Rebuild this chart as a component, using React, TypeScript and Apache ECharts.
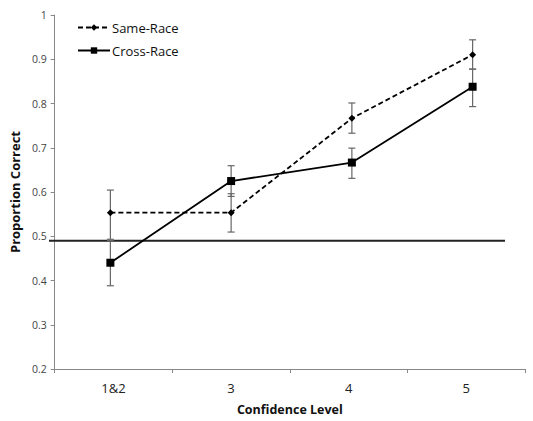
import React, { useEffect, useRef } from "react";
import * as echarts from "echarts";

const categories = ["1&2", "3", "4", "5"];
const sameRace = [0.562, 0.562, 0.771, 0.912];
const sameLow = [0.503, 0.519, 0.738, 0.88];
const sameHigh = [0.612, 0.604, 0.805, 0.945];
const crossRace = [0.451, 0.632, 0.673, 0.841];
const crossLow = [0.4, 0.598, 0.638, 0.797];
const crossHigh = [0.5, 0.666, 0.705, 0.88];
const referenceLine = [0.5, 0.5];
const yTicks = { min: 0.2, max: 1, interval: 0.1 };

const FONT = "'Open Sans', 'Noto Sans', sans-serif";

function errorSeries(name: string, lows: number[], highs: number[]) {
  return {
    type: "custom",
    name: name + "-err",
    xAxisIndex: 1,
    yAxisIndex: 1,
    silent: true,
    z: 1,
    data: lows.map((l, i) => [i, l, highs[i]]),
    renderItem: (params: any, api: any) => {
      const x = api.value(0);
      const lo = api.coord([x, api.value(1)]);
      const hi = api.coord([x, api.value(2)]);
      const cap = 3.5;
      const style = { stroke: "#666", lineWidth: 1.2 };
      return {
        type: "group",
        children: [
          { type: "line", shape: { x1: lo[0], y1: lo[1], x2: hi[0], y2: hi[1] }, style },
          { type: "line", shape: { x1: lo[0] - cap, y1: lo[1], x2: lo[0] + cap, y2: lo[1] }, style },
          { type: "line", shape: { x1: hi[0] - cap, y1: hi[1], x2: hi[0] + cap, y2: hi[1] }, style },
        ],
      };
    },
  };
}

export default function App() {
  const ref = useRef<HTMLDivElement>(null);
  useEffect(() => {
    if (!ref.current) return;
    const chart = echarts.init(ref.current, null, { renderer: "svg" });
    const hiddenY = {
      type: "value",
      min: yTicks.min,
      max: yTicks.max,
      interval: yTicks.interval,
      show: false,
    };
    chart.setOption({
      animation: false,
      backgroundColor: "#fff",
      textStyle: { fontFamily: FONT },
      grid: [
        { left: 49, top: 15, width: 476, height: 361 },
        { left: 50, top: 15, width: 487, height: 361 },
        { left: 49, top: 15, width: 456, height: 361 },
      ],
      legend: {
        orient: "vertical",
        left: 72,
        top: 16,
        itemWidth: 32,
        itemHeight: 8,
        itemGap: 10,
        data: ["Same-Race", "Cross-Race"],
        textStyle: { fontFamily: FONT, fontSize: 13, color: "#111", padding: [0, 0, 0, -3] },
      },
      xAxis: [
        {
          type: "category",
          gridIndex: 0,
          data: categories,
          name: "Confidence Level",
          nameLocation: "middle",
          nameGap: 34,
          nameTextStyle: { fontFamily: FONT, fontSize: 12.5, fontWeight: "bold", color: "#111" },
          axisLine: { lineStyle: { color: "#888", width: 1 } },
          axisTick: { show: true, length: 4, lineStyle: { color: "#888" } },
          axisLabel: { fontFamily: FONT, fontSize: 13, color: "#222", margin: 12 },
        },
        { type: "category", gridIndex: 1, data: categories, show: false },
        { type: "category", gridIndex: 2, data: ["a", "b"], boundaryGap: false, show: false },
      ],
      yAxis: [
        {
          type: "value",
          gridIndex: 0,
          min: yTicks.min,
          max: yTicks.max,
          interval: yTicks.interval,
          name: "Proportion Correct",
          nameLocation: "middle",
          nameGap: 31,
          nameTextStyle: { fontFamily: FONT, fontSize: 13, fontWeight: "bold", color: "#111" },
          axisLine: { show: true, lineStyle: { color: "#888", width: 1 } },
          axisTick: { show: true, length: 4, lineStyle: { color: "#888" } },
          splitLine: { show: false },
          axisLabel: {
            fontFamily: FONT,
            fontSize: 10.5,
            color: "#444",
            margin: 8,
            formatter: (v: number) => String(Math.round(v * 10) / 10),
          },
        },
        { ...hiddenY, gridIndex: 1 },
        { ...hiddenY, gridIndex: 2 },
      ],
      series: [
        {
          type: "line",
          name: "ref",
          xAxisIndex: 2,
          yAxisIndex: 2,
          data: referenceLine,
          symbol: "none",
          silent: true,
          z: 0,
          lineStyle: { color: "#222", width: 2 },
        },
        errorSeries("Same-Race", sameLow, sameHigh),
        errorSeries("Cross-Race", crossLow, crossHigh),
        {
          type: "line",
          name: "Same-Race",
          xAxisIndex: 1,
          yAxisIndex: 1,
          data: sameRace,
          symbol: "diamond",
          symbolSize: 7,
          z: 3,
          itemStyle: { color: "#000" },
          lineStyle: { color: "#000", width: 1.8, type: [5, 3] },
        },
        {
          type: "line",
          name: "Cross-Race",
          xAxisIndex: 1,
          yAxisIndex: 1,
          data: crossRace,
          symbol: "rect",
          symbolSize: 8,
          z: 3,
          itemStyle: { color: "#000" },
          lineStyle: { color: "#000", width: 1.8 },
        },
      ],
    });
    return () => chart.dispose();
  }, []);
  return <div ref={ref} style={{ width: 533, height: 421, position: "absolute", left: 0, top: 0 }} />;
}
